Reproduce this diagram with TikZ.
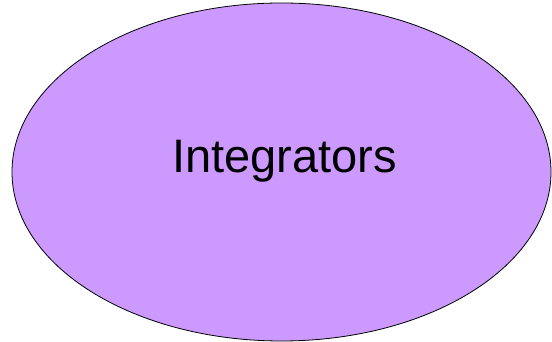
\documentclass[tikz,border=0pt]{standalone}
\usepackage{fontspec}
\setmainfont{Liberation Sans}
\usetikzlibrary{shapes.geometric}
\definecolor{lilac}{HTML}{CC99FF}
\tikzset{
	blob/.style={ellipse, draw=black, line width=0.8pt, fill=lilac, minimum width=539pt, minimum height=338pt, inner sep=0pt},
	blobtext/.style={font=\fontsize{47}{56}\selectfont, inner sep=0pt}
}
\begin{document}
\begin{tikzpicture}[x=1pt,y=1pt]
\useasboundingbox (0,0) rectangle (552,342);
%ellipse
\node[blob] (intg) at (281.5,170) {};
\node[blobtext] (intglabel) at ([xshift=3pt,yshift=11pt]intg.center) {Integrators};
\end{tikzpicture}
\end{document}
